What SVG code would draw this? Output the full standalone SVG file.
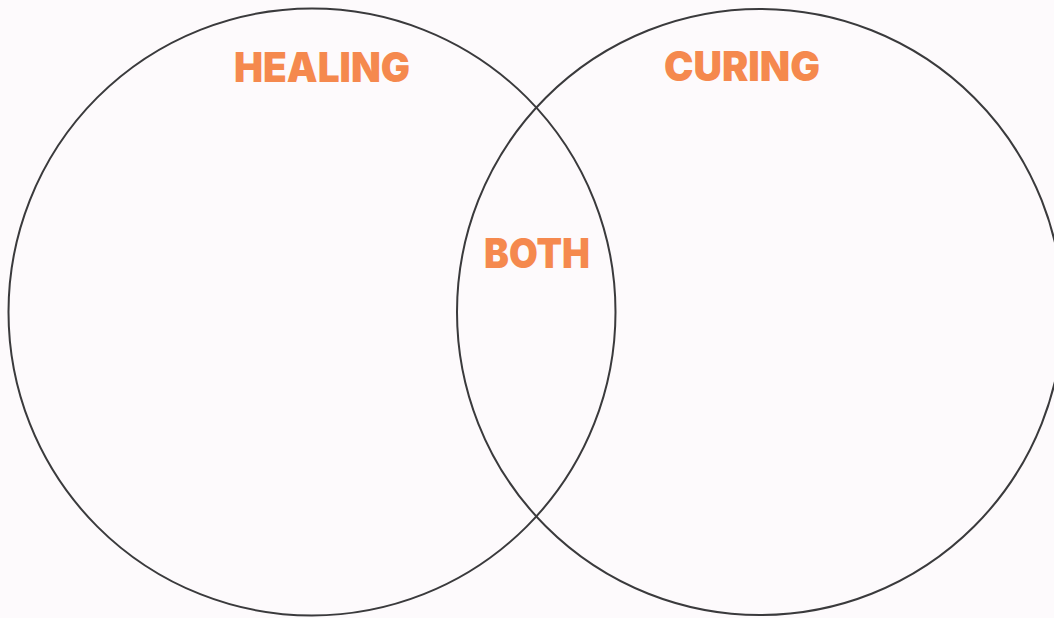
<svg xmlns="http://www.w3.org/2000/svg" width="1054" height="618" viewBox="0 0 1054 618">
  <style>
    .ring { fill: none; stroke: #3a3a3c; stroke-width: 2; }
    .lbl { font-family: "Inter", "Liberation Sans", sans-serif; font-weight: 900; fill: #f5894e; text-anchor: middle; }
  </style>
  <rect x="0" y="0" width="1054" height="618" fill="#fdfafc"/>
  <g id="healing">
    <circle class="ring" cx="312" cy="312" r="303.5"/>
    <text class="lbl" x="322" y="82" font-size="41" textLength="176" lengthAdjust="spacingAndGlyphs">HEALING</text>
  </g>
  <g id="curing">
    <circle class="ring" cx="760" cy="312" r="303"/>
    <text class="lbl" x="742" y="81" font-size="41" textLength="156" lengthAdjust="spacingAndGlyphs">CURING</text>
  </g>
  <g id="both">
    <text class="lbl" x="537" y="268" font-size="41" textLength="106" lengthAdjust="spacingAndGlyphs">BOTH</text>
  </g>
  <g id="connectors"></g>
</svg>
